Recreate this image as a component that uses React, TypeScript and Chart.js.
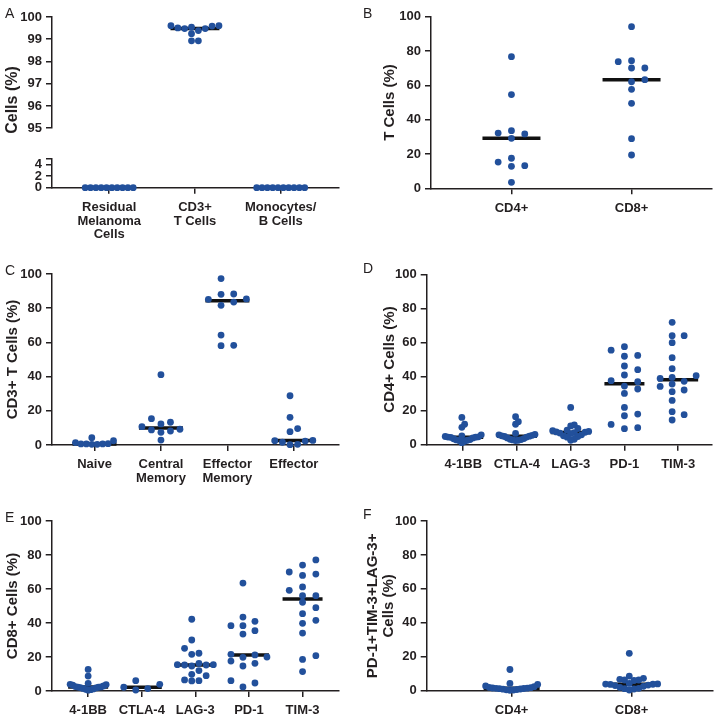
import React, { useEffect, useRef } from "react";
import { Chart, registerables } from "chart.js";
Chart.register(...registerables);

const FONT = "'Liberation Sans', Arial, Helvetica, sans-serif";
const INK = "#231f20";
const DOT = "#22509b";

// ---------- Data ----------
// Panel A
const catsA = [["Residual", "Melanoma", "Cells"], ["CD3+", "T Cells"], ["Monocytes/", "B Cells"]];
const aResidual = [0, 0, 0, 0, 0, 0, 0, 0, 0, 0];
const aCD3 = [99.39, 99.61, 99.48, 99.54, 99.48, 99.59, 99.61, 99.51, 99.25, 98.93, 98.93];
const aMonoB = [0, 0, 0, 0, 0, 0, 0, 0, 0, 0];
const aTicksUpper = [95, 96, 97, 98, 99, 100];
const aTicksLower = [0, 2, 4, 5];

// Panel B
const catsB = ["CD4+", "CD8+"];
const bCD4 = [76.7, 54.6, 33.6, 31.7, 32.2, 29.1, 17.5, 15.3, 12.8, 13.2, 3.5];
const bCD8 = [94.2, 74.4, 73.8, 70.1, 70.1, 62.1, 63.3, 57.7, 49.5, 28.9, 19.4];

// Panel C
const catsC = ["Naive", ["Central", "Memory"], ["Effector", "Memory"], "Effector"];
const cNaive = [0.4, 2.5, 0.8, 1.4, 0.6, 0.6, 0.6, 4.3, 0.4];
const cCentral = [10.7, 12.3, 13.3, 15.4, 8.2, 9.2, 7.4, 8.8, 2.9, 41.1];
const cEffMem = [97.3, 88.3, 88.1, 83.6, 85.4, 85.2, 81.7, 64.3, 58.1, 58.3];
const cEff = [28.8, 16.2, 7.8, 9.6, 0.4, 2.7, 1.6, 2.5, 0.2, 2.3];

// Panel D (CD4+)
const catsMarkers = ["4-1BB", "CTLA-4", "LAG-3", "PD-1", "TIM-3"];
const d41BB = [16.0, 12.0, 10.2, 5.8, 5.2, 4.8, 4.6, 4.5, 4.4, 4.3, 4.0, 3.5, 3.0, 2.8, 2.6, 2.4, 2.0, 1.2];
const dCTLA4 = [16.4, 13.5, 12.0, 6.6, 6.0, 5.8, 5.5, 5.2, 5.0, 4.8, 4.5, 4.0, 3.6, 3.2, 3.0, 2.8, 2.6, 2.4];
const dLAG3 = [21.9, 11.6, 11.0, 9.5, 8.5, 8.2, 7.8, 7.5, 7.3, 7.1, 6.8, 6.5, 5.8, 5.2, 4.8, 4.4, 3.2, 2.6];
const dPD1 = [51.9, 52.4, 57.5, 55.5, 46.2, 44.0, 40.9, 34.4, 30.1, 37.6, 32.7, 37.0, 21.9, 18.0, 17.0, 11.9, 9.4, 10.0];
const dTIM3 = [71.8, 64.0, 64.0, 59.9, 51.1, 44.6, 37.2, 38.9, 40.5, 39.5, 35.6, 34.2, 32.1, 31.1, 26.0, 19.4, 17.6, 14.5];

// Panel E (CD8+)
const e41BB = [12.7, 8.8, 4.5, 3.9, 3.8, 3.5, 3.0, 2.6, 2.4, 2.3, 2.2, 2.0, 1.8, 1.5, 1.2, 1.0, 0.8, 0.5];
const eCTLA4 = [6.1, 0.6, 3.9, 1.4, 2.2];
const eLAG3 = [42.2, 30.0, 25.1, 22.2, 21.6, 16.3, 15.5, 15.5, 15.3, 15.3, 14.7, 12.0, 9.8, 9.0, 6.5, 6.1, 5.9];
const ePD1 = [63.5, 41.0, 43.5, 38.4, 38.4, 35.5, 33.5, 20.0, 17.6, 19.8, 21.2, 21.6, 14.7, 16.3, 6.1, 4.7, 2.4];
const eTIM3 = [77.1, 74.1, 68.0, 70.0, 68.8, 59.2, 61.2, 56.1, 56.1, 52.2, 49.0, 45.5, 39.8, 41.6, 34.1, 18.6, 20.8, 11.4];

// Panel F
const catsF = ["CD4+", "CD8+"];
const fCD4 = [12.5, 4.3, 3.7, 2.8, 2.4, 2.0, 1.8, 1.6, 1.5, 1.4, 1.3, 1.2, 1.0, 0.9, 0.7, 0.5, 0.4, 0.2];
const fCD8 = [22.0, 8.6, 7.3, 6.7, 6.3, 6.3, 6.0, 4.3, 4.0, 3.9, 3.8, 3.7, 3.3, 3.0, 2.6, 2.0, 1.4, 1.2, 1.0, 0.4];

const ticks0to100 = [0, 20, 40, 60, 80, 100];

// ---------- helpers ----------
function median(a: number[]) {
  const s = [...a].sort((x, y) => x - y);
  const n = s.length;
  return n % 2 ? s[(n - 1) / 2] : (s[n / 2 - 1] + s[n / 2]) / 2;
}

// column-scatter layout (slot based, like a dot plot): horizontal offsets in px
function swarmOffsets(values: number[], pxPerUnit: number, maxHalf: number): number[] {
  const D = 6.6;
  const S = 13.3;
  const order = values.map((_, i) => i).sort((a, b) => values[a] - values[b]);
  const slots = new Array(values.length).fill(0);
  const placed: { s: number; y: number }[] = [];
  const seq: number[] = [0];
  for (let k = 1; k < 60; k++) seq.push(k, -k);
  for (const i of order) {
    const y = values[i] * pxPerUnit;
    let chosen = 0;
    for (const k of seq) {
      if (!placed.some((p) => p.s === k && Math.abs(p.y - y) < D)) {
        chosen = k;
        break;
      }
    }
    slots[i] = chosen;
    placed.push({ s: chosen, y });
  }
  const mx = Math.max(...slots);
  const mn = Math.min(...slots);
  const halfPx = Math.max(mx, -mn) * S;
  if (halfPx <= maxHalf) return slots.map((k) => k * S);
  const c = (mx + mn) / 2;
  const step = (2 * maxHalf) / Math.max(1, mx - mn);
  return slots.map((k) => (k - c) * Math.min(S, step));
}

type TextItem = { text: string; x: number; y: number; font: string; rotate?: number; align?: string; baseline?: string };

function textPlugin(items: TextItem[]) {
  return {
    id: "extraText",
    afterDraw(chart: any) {
      const ctx = chart.ctx;
      for (const t of items) {
        ctx.save();
        ctx.font = t.font;
        ctx.fillStyle = INK;
        ctx.textAlign = t.align || "left";
        ctx.textBaseline = t.baseline || "alphabetic";
        ctx.translate(t.x, t.y);
        if (t.rotate) ctx.rotate(t.rotate);
        ctx.fillText(t.text, 0, 0);
        ctx.restore();
      }
    },
  };
}

interface Spec {
  w: number;
  h: number;
  area: { l: number; t: number; r: number; b: number };
  xMin: number;
  xMax: number;
  cats: (string | string[])[] | null;
  groups: number[][];
  keep?: (v: number) => boolean;
  yMin: number;
  yMax: number;
  yTicks: number[];
  yLabel?: (v: number) => string;
  yTitle?: string | string[];
  titleTop?: number;
  titleLH?: number;
  medHalf: number;
  spread: number;
  texts: TextItem[];
}

function buildConfig(s: Spec): any {
  const { l, t, r, b } = s.area;
  const pxPerCat = (r - l) / (s.xMax - s.xMin);
  const pxPerUnit = (b - t) / (s.yMax - s.yMin);
  const keep = s.keep || (() => true);
  const datasets: any[] = [];
  s.groups.forEach((vals, i) => {
    const offs = swarmOffsets(vals, pxPerUnit, s.spread);
    const pts = vals
      .map((v, j) => ({ x: i + offs[j] / pxPerCat, y: v }))
      .filter((p) => keep(p.y));
    if (pts.length) {
      datasets.push({
        data: pts,
        pointRadius: 3.4,
        pointHoverRadius: 3.4,
        pointBackgroundColor: DOT,
        pointBorderColor: DOT,
        pointBorderWidth: 0,
        showLine: false,
        clip: false,
        order: 0,
      });
    }
    const m = median(vals);
    if (keep(m)) {
      const hw = s.medHalf / pxPerCat;
      datasets.push({
        data: [
          { x: i - hw, y: m },
          { x: i + hw, y: m },
        ],
        showLine: true,
        borderColor: "#111111",
        borderWidth: 3.5,
        borderCapStyle: "butt",
        pointRadius: 0,
        pointHoverRadius: 0,
        clip: false,
        order: 1,
      });
    }
  });

  const tickFont = { family: FONT, size: 13, weight: "bold" as const, lineHeight: 1.05 };
  const gridOpts = { display: true, drawOnChartArea: false, drawTicks: true, tickLength: 6, color: INK, lineWidth: 1.5 };
  const borderOpts = { display: true, color: INK, width: 1.5 };

  return {
    type: "scatter",
    data: { datasets },
    plugins: [textPlugin(s.texts)],
    options: {
      responsive: false,
      animation: false,
      events: [],
      devicePixelRatio: 1,
      layout: { padding: { left: 0, top: t, right: s.w - r, bottom: s.cats ? 0 : s.h - b } },
      plugins: { legend: { display: false }, tooltip: { enabled: false }, title: { display: false } },
      scales: {
        x: {
          type: "linear",
          min: s.xMin,
          max: s.xMax,
          display: !!s.cats,
          afterBuildTicks: (sc: any) => {
            sc.ticks = (s.cats || []).map((_, i) => ({ value: i }));
          },
          afterFit: (sc: any) => {
            if (s.cats) sc.height = s.h - b;
          },
          grid: gridOpts,
          border: borderOpts,
          ticks: {
            autoSkip: false,
            maxRotation: 0,
            minRotation: 0,
            padding: 7,
            color: INK,
            font: tickFont,
            callback: (v: number) => (s.cats ? s.cats[Math.round(v)] ?? "" : ""),
          },
        },
        y: {
          type: "linear",
          min: s.yMin,
          max: s.yMax,
          afterBuildTicks: (sc: any) => {
            sc.ticks = s.yTicks.map((v) => ({ value: v }));
          },
          afterFit: (sc: any) => {
            sc.width = l;
          },
          grid: gridOpts,
          border: borderOpts,
          ticks: {
            autoSkip: false,
            padding: 4,
            color: INK,
            font: { family: FONT, size: 13, weight: "bold" },
            callback: s.yLabel || ((v: number) => String(v)),
          },
          title: s.yTitle
            ? {
                display: true,
                text: s.yTitle,
                color: INK,
                font: { family: FONT, size: 15, weight: "bold", lineHeight: s.titleLH || 1.2 },
                padding: { top: s.titleTop || 0, bottom: 0 },
              }
            : { display: false },
        },
      },
    },
  };
}

function ChartBox({ left, top, spec }: { left: number; top: number; spec: Spec }) {
  const ref = useRef<HTMLCanvasElement>(null);
  useEffect(() => {
    const chart = new Chart(ref.current as HTMLCanvasElement, buildConfig(spec));
    return () => chart.destroy();
  }, []);
  return (
    <div style={{ position: "absolute", left, top, width: spec.w, height: spec.h }}>
      <canvas ref={ref} width={spec.w} height={spec.h} style={{ width: spec.w, height: spec.h, display: "block" }} />
    </div>
  );
}

const letterFont = `14px ${FONT}`;

const specAUpper: Spec = {
  w: 360, h: 140,
  area: { l: 52, t: 17, r: 339, b: 132 },
  xMin: -0.667, xMax: 2.68, cats: null,
  groups: [aResidual, aCD3, aMonoB], keep: (v) => v >= 90,
  yMin: 95, yMax: 100, yTicks: aTicksUpper,
  medHalf: 24.5, spread: 24,
  texts: [
    { text: "A", x: 5, y: 18, font: letterFont },
    { text: "Cells (%)", x: 13, y: 100, font: `bold 16px ${FONT}`, rotate: -Math.PI / 2, align: "center", baseline: "middle" },
  ],
};

const specALower: Spec = {
  w: 360, h: 110,
  area: { l: 52, t: 18.5, r: 339, b: 47.7 },
  xMin: -0.667, xMax: 2.68, cats: catsA,
  groups: [aResidual, aCD3, aMonoB], keep: (v) => v <= 10,
  yMin: 0, yMax: 5, yTicks: aTicksLower, yLabel: (v) => (v === 5 ? "" : String(v)),
  medHalf: 24.5, spread: 24,
  texts: [],
};

const specB: Spec = {
  w: 360, h: 240,
  area: { l: 71, t: 16.7, r: 352, b: 188.3 },
  xMin: -0.67, xMax: 1.67, cats: catsB,
  groups: [bCD4, bCD8],
  yMin: 0, yMax: 100, yTicks: ticks0to100,
  yTitle: "T Cells (%)", titleTop: 21,
  medHalf: 29, spread: 28,
  texts: [{ text: "B", x: 3, y: 18, font: letterFont }],
};

const specC: Spec = {
  w: 360, h: 252,
  area: { l: 52, t: 34, r: 339, b: 205 },
  xMin: -0.64, xMax: 3.68, cats: catsC,
  groups: [cNaive, cCentral, cEffMem, cEff],
  yMin: 0, yMax: 100, yTicks: ticks0to100,
  yTitle: "CD3+ T Cells (%)", titleTop: 4,
  medHalf: 22, spread: 19,
  texts: [{ text: "C", x: 5, y: 35, font: letterFont }],
};

const specD: Spec = {
  w: 360, h: 252,
  area: { l: 66.7, t: 34.3, r: 352, b: 204.7 },
  xMin: -0.68, xMax: 4.63, cats: catsMarkers,
  groups: [d41BB, dCTLA4, dLAG3, dPD1, dTIM3],
  yMin: 0, yMax: 100, yTicks: ticks0to100,
  yTitle: "CD4+ Cells (%)", titleTop: 21,
  medHalf: 20, spread: 18,
  texts: [{ text: "D", x: 3, y: 33, font: letterFont }],
};

const specE: Spec = {
  w: 360, h: 244,
  area: { l: 51.7, t: 41, r: 339, b: 211 },
  xMin: -0.68, xMax: 4.68, cats: catsMarkers,
  groups: [e41BB, eCTLA4, eLAG3, ePD1, eTIM3],
  yMin: 0, yMax: 100, yTicks: ticks0to100,
  yTitle: "CD8+ Cells (%)", titleTop: 4,
  medHalf: 20, spread: 18,
  texts: [{ text: "E", x: 5, y: 42, font: letterFont }],
};

const specF: Spec = {
  w: 360, h: 244,
  area: { l: 66.7, t: 41, r: 353, b: 210.7 },
  xMin: -0.708, xMax: 1.678, cats: catsF,
  groups: [fCD4, fCD8],
  yMin: 0, yMax: 100, yTicks: ticks0to100,
  yTitle: ["PD-1+TIM-3+LAG-3+", "Cells (%)"], titleTop: 4.25, titleLH: 1.1,
  medHalf: 28, spread: 26,
  texts: [{ text: "F", x: 3, y: 39, font: letterFont }],
};

export default function App() {
  return (
    <div style={{ position: "absolute", left: 0, top: 0, width: 720, height: 724, background: "#ffffff", overflow: "hidden" }}>
      <ChartBox left={0} top={0} spec={specAUpper} />
      <ChartBox left={0} top={140} spec={specALower} />
      <ChartBox left={360} top={0} spec={specB} />
      <ChartBox left={0} top={240} spec={specC} />
      <ChartBox left={360} top={240} spec={specD} />
      <ChartBox left={0} top={480} spec={specE} />
      <ChartBox left={360} top={480} spec={specF} />
    </div>
  );
}
